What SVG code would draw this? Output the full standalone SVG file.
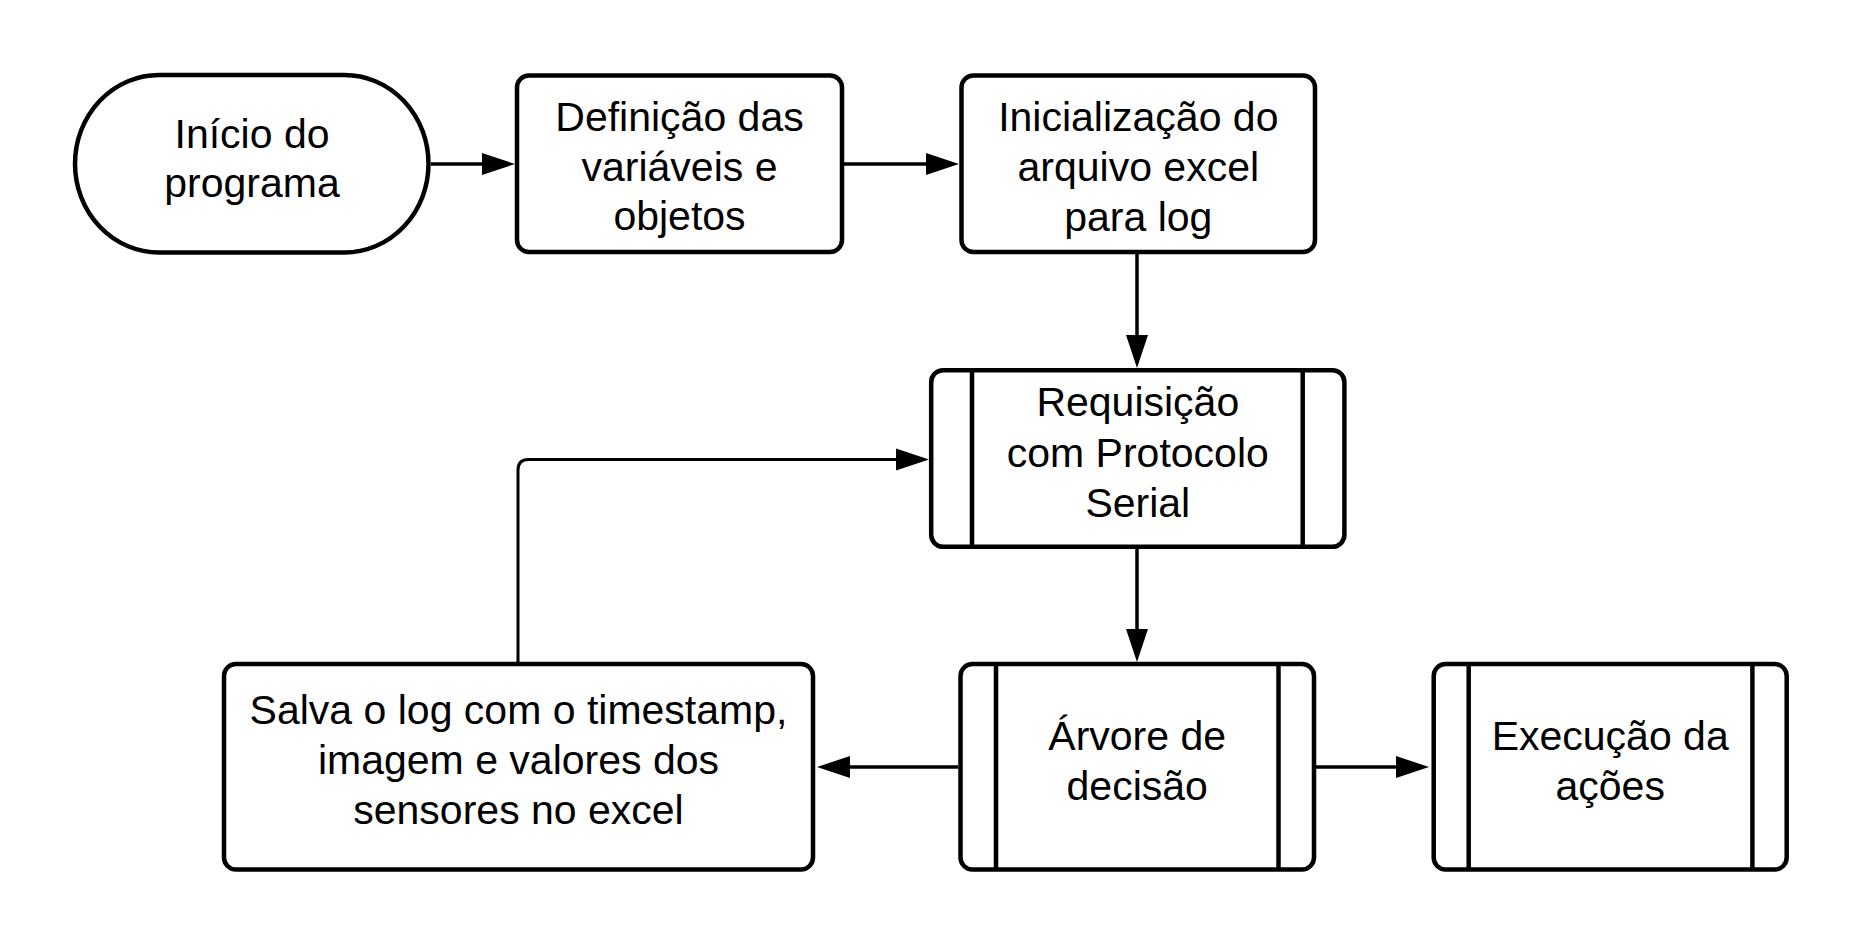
<svg xmlns="http://www.w3.org/2000/svg" width="1864" height="945" viewBox="0 0 1864 945">
<style>
.shape{fill:#ffffff;stroke:#000000;stroke-width:4.5}
.bar{stroke:#000000;stroke-width:4.5;fill:none}
.conn{fill:none;stroke:#000000;stroke-width:3.5}
.thin{fill:none;stroke:#000000;stroke-width:3}
text{font-family:"Liberation Sans",Arial,sans-serif;font-size:41px;fill:#000000;text-anchor:middle}
</style>
<defs>
<marker id="arr" markerUnits="userSpaceOnUse" markerWidth="34" markerHeight="22" viewBox="0 0 34 22" refX="0" refY="11" orient="auto" overflow="visible">
<path d="M0,0 L33,11 L0,22 Z" fill="#000000"/>
</marker>
</defs>
<rect width="1864" height="945" fill="#ffffff"/>
<g id="connectors">
<path class="conn" d="M431,164 L482,164" marker-end="url(#arr)"/>
<path class="conn" d="M844,164 L926,164" marker-end="url(#arr)"/>
<path class="conn" d="M1137,254 L1137,335" marker-end="url(#arr)"/>
<path class="conn" d="M1137,549 L1137,629" marker-end="url(#arr)"/>
<path class="conn" d="M958,767 L850,767" marker-end="url(#arr)"/>
<path class="conn" d="M1316,767 L1396,767" marker-end="url(#arr)"/>
<path class="thin" d="M518,662 L518,470 Q518,459.5 528.5,459.5 L896,459.5" marker-end="url(#arr)"/>
</g>
<g id="start">
<rect class="shape" x="75" y="75" width="353.5" height="177.5" rx="84" ry="88.75"/>
<text x="252" y="148">Início do</text>
<text x="252" y="197">programa</text>
</g>
<g id="definicao">
<rect class="shape" x="517" y="75.5" width="325" height="176.5" rx="12"/>
<text x="679.5" y="131">Definição das</text>
<text x="679.5" y="181">variáveis e</text>
<text x="679.5" y="230">objetos</text>
</g>
<g id="inicializacao">
<rect class="shape" x="961.5" y="75.5" width="353.5" height="176.5" rx="12"/>
<text x="1138.3" y="131">Inicialização do</text>
<text x="1138.3" y="181">arquivo excel</text>
<text x="1138.3" y="231">para log</text>
</g>
<g id="requisicao">
<rect class="shape" x="931.2" y="370.2" width="413.2" height="176.6" rx="12"/>
<line class="bar" x1="972" y1="370.2" x2="972" y2="546.8"/>
<line class="bar" x1="1302.7" y1="370.2" x2="1302.7" y2="546.8"/>
<text x="1137.8" y="416">Requisição</text>
<text x="1137.8" y="467">com Protocolo</text>
<text x="1137.8" y="517">Serial</text>
</g>
<g id="arvore">
<rect class="shape" x="960.5" y="664" width="353.5" height="205.5" rx="12"/>
<line class="bar" x1="996" y1="664" x2="996" y2="869.5"/>
<line class="bar" x1="1278.5" y1="664" x2="1278.5" y2="869.5"/>
<text x="1137.2" y="750">Árvore de</text>
<text x="1137.2" y="800">decisão</text>
</g>
<g id="execucao">
<rect class="shape" x="1433.7" y="664" width="353" height="205.5" rx="12"/>
<line class="bar" x1="1468.7" y1="664" x2="1468.7" y2="869.5"/>
<line class="bar" x1="1752.4" y1="664" x2="1752.4" y2="869.5"/>
<text x="1610.2" y="750">Execução da</text>
<text x="1610.2" y="800">ações</text>
</g>
<g id="salva">
<rect class="shape" x="224" y="664" width="589" height="205.5" rx="12"/>
<text x="518.5" y="724">Salva o log com o timestamp,</text>
<text x="518.5" y="774">imagem e valores dos</text>
<text x="518.5" y="824">sensores no excel</text>
</g>
</svg>
